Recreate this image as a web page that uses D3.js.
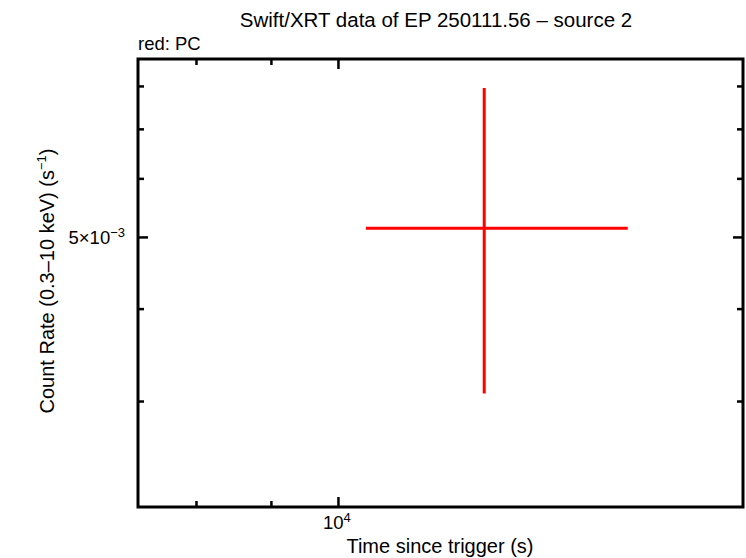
<!DOCTYPE html>
<html><head><meta charset="utf-8">
<script src="https://cdn.jsdelivr.net/npm/d3@7/dist/d3.min.js"></script>
<style>
body{margin:0;background:#fff;}
svg{display:block;font-family:"Liberation Sans",Arial,Helvetica,sans-serif;}
</style></head>
<body>
<svg id="c" width="746" height="558"></svg>
<script>
// ---- data ----
const title = "Swift/XRT data of EP 250111.56 \u2013 source 2";
const modeLabel = "red: PC";
const xLabel = "Time since trigger (s)";
const yLabelMain = "Count Rate (0.3\u201310 keV) (s";
const yLabelSup = "\u22121";
const xDomain = [7303, 18902];
const yDomain = [2.157e-3, 8.70e-3];
const xMajorTicks = [10000];
const xMinorTicks = [8000, 9000];
const xTickLabels = [{v:10000, base:"10", sup:"4"}];
const yMajorTicks = [0.005];
const yMinorTicks = [0.003, 0.004, 0.006, 0.007, 0.008];
const yTickLabels = [{v:0.005, base:"5\u00d710", sup:"\u22123"}];
// PC mode points
const pcTime   = [12585];
const pcTimeLo = [10450];
const pcTimeHi = [15770];
const pcRate   = [5.137e-3];
const pcRateLo = [3.07e-3];
const pcRateHi = [7.95e-3];

// ---- layout ----
const L = 138, R = 743, T = 59, B = 507;
const svg = d3.select("#c");
const x = d3.scaleLog().domain(xDomain).range([L, R]);
const y = d3.scaleLog().domain(yDomain).range([B, T]);

const majLen = 10, minLen = 6;
function ax(gen, vals, len, tr){
  const g = svg.append("g").attr("transform", tr)
    .call(gen.tickValues(vals).tickSizeInner(-len).tickSizeOuter(0).tickFormat(""));
  g.select(".domain").remove();
  g.selectAll(".tick line").attr("stroke","#000").attr("stroke-width",2.5);
  return g;
}
ax(d3.axisBottom(x), xMajorTicks, majLen, `translate(0,${B})`);
ax(d3.axisBottom(x), xMinorTicks, minLen, `translate(0,${B})`);
ax(d3.axisTop(x), xMajorTicks, -majLen, `translate(0,${T})`).selectAll(".tick line").attr("y2", majLen);
ax(d3.axisTop(x), xMinorTicks, -minLen, `translate(0,${T})`).selectAll(".tick line").attr("y2", minLen);
ax(d3.axisLeft(y), yMajorTicks, majLen, `translate(${L},0)`);
ax(d3.axisLeft(y), yMinorTicks, minLen, `translate(${L},0)`);
ax(d3.axisRight(y), yMajorTicks, majLen, `translate(${R},0)`).selectAll(".tick line").attr("x2", -majLen);
ax(d3.axisRight(y), yMinorTicks, minLen, `translate(${R},0)`).selectAll(".tick line").attr("x2", -minLen);

// frame
svg.append("rect").attr("x",L).attr("y",T).attr("width",R-L).attr("height",B-T)
  .attr("fill","none").attr("stroke","#000").attr("stroke-width",3);

// error bars
const pts = pcTime.map((t,i)=>({t, tl:pcTimeLo[i], th:pcTimeHi[i], r:pcRate[i], rl:pcRateLo[i], rh:pcRateHi[i]}));
const eg = svg.append("g").attr("stroke","#ff0000").attr("stroke-width",3);
eg.selectAll(".h").data(pts).join("line")
  .attr("x1",d=>x(d.tl)).attr("x2",d=>x(d.th)).attr("y1",d=>y(d.r)).attr("y2",d=>y(d.r));
eg.selectAll(".v").data(pts).join("line")
  .attr("x1",d=>x(d.t)).attr("x2",d=>x(d.t)).attr("y1",d=>y(d.rl)).attr("y2",d=>y(d.rh));

// tick labels
xTickLabels.forEach(d=>{
  const t = svg.append("text").attr("x", x(d.v)-15).attr("y", 529).attr("font-size",18.5);
  t.append("tspan").text(d.base);
  t.append("tspan").attr("font-size",13).attr("dy",-7).text(d.sup);
});
yTickLabels.forEach(d=>{
  const t = svg.append("text").attr("x", 125).attr("y", y(d.v)+7).attr("font-size",18.5).attr("text-anchor","end");
  t.append("tspan").text(d.base);
  t.append("tspan").attr("font-size",13).attr("dy",-7).text(d.sup);
});

// titles
svg.append("text").attr("x",436).attr("y",27).attr("text-anchor","middle").attr("font-size",20.5).text(title);
svg.append("text").attr("x",L).attr("y",50).attr("font-size",18.5).text(modeLabel);
svg.append("text").attr("x",440).attr("y",553).attr("text-anchor","middle").attr("font-size",20).text(xLabel);
const yl = svg.append("text").attr("transform",`translate(54,281) rotate(-90)`)
  .attr("text-anchor","middle").attr("font-size",20);
yl.append("tspan").text(yLabelMain);
yl.append("tspan").attr("font-size",13).attr("dy",-8).text(yLabelSup);
yl.append("tspan").attr("dy",8).text(")");
</script>
</body></html>
